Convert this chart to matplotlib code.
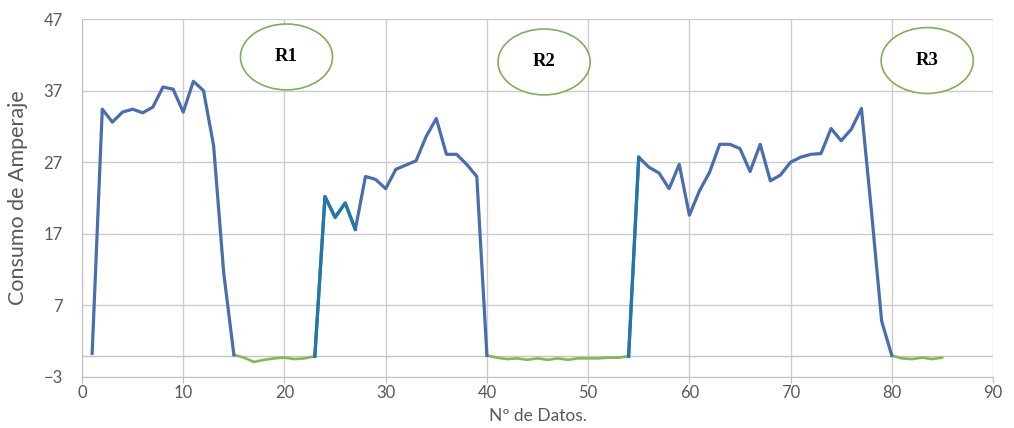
import matplotlib
matplotlib.use("Agg")
import matplotlib.pyplot as plt
from matplotlib.patches import Ellipse
import numpy as np

# consumo de amperaje por dato (x = 1..85)
n_datos = np.arange(1, 86)
amperaje = [
    0.3, 34.4, 32.6, 34.0, 34.4, 33.9, 34.7, 37.5, 37.2, 34.0,
    38.3, 37.0, 29.3, 11.5, 0.1, -0.3, -0.9, -0.6, -0.4, -0.3,
    -0.5, -0.4, -0.1, 22.2, 19.3, 21.3, 17.6, 25.0, 24.6, 23.3,
    26.0, 26.6, 27.2, 30.6, 33.1, 28.1, 28.1, 26.7, 25.0, 0.0,
    -0.3, -0.5, -0.4, -0.6, -0.4, -0.6, -0.4, -0.6, -0.4, -0.4,
    -0.4, -0.3, -0.3, -0.1, 27.7, 26.3, 25.5, 23.3, 26.7, 19.6,
    23.0, 25.6, 29.5, 29.5, 28.9, 25.7, 29.5, 24.4, 25.2, 27.0,
    27.7, 28.1, 28.2, 31.7, 30.0, 31.6, 34.5, 20.0, 4.8, 0.0,
    -0.4, -0.5, -0.3, -0.5, -0.3,
]
amperaje = np.array(amperaje)

# tramos en marcha (azul) y en reposo (verde), como rangos de datos
tramos_marcha = [(1, 15), (23, 40), (54, 80)]
tramos_reposo = [(15, 23), (40, 54), (80, 85)]
tramos_resaltados = [(23, 27), (54, 55)]

regiones = ["R1", "R2", "R3"]
reg_x = [20.2, 45.65, 83.5]
reg_y = [41.7, 41.0, 41.2]

azul = "#4A6DAE"
azul_osc = "#2177A8"
verde = "#86B65A"
gris = "#595959"

fig = plt.figure(figsize=(10.14, 4.28), dpi=100)
ax = fig.add_axes([0.0809, 0.1192, 0.8984, 0.8364])

def tramo(a, b):
    m = (n_datos >= a) & (n_datos <= b)
    return n_datos[m], amperaje[m]

for a, b in tramos_reposo:
    x, y = tramo(a, b)
    ax.plot(x, y, color=verde, lw=1.9, solid_capstyle="round", zorder=3)
for a, b in tramos_marcha:
    x, y = tramo(a, b)
    ax.plot(x, y, color=azul, lw=2.3, solid_joinstyle="round", zorder=4)
for a, b in tramos_resaltados:
    x, y = tramo(a, b)
    ax.plot(x, y, color=azul_osc, lw=2.3, solid_joinstyle="round", zorder=5)

for r, cx, cy in zip(regiones, reg_x, reg_y):
    ax.add_patch(Ellipse((cx, cy), 9.1, 9.2, facecolor="white",
                         edgecolor="#7FAE5C", lw=1.2, zorder=6))
    ax.text(cx, cy, r, ha="center", va="center", fontsize=13.5,
            fontweight="bold", family="Liberation Serif", zorder=7)

ax.set_xlim(0, 90)
ax.set_ylim(-3, 47)
ax.set_xticks(range(0, 91, 10))
ax.set_yticks(range(-3, 48, 10))
ax.grid(True, color="#CCCCCC", lw=1)
ax.axhline(0, color="#C4C4C4", lw=1, zorder=1)
ax.set_axisbelow(True)

for s in ["top", "right"]:
    ax.spines[s].set_visible(False)
for s in ["left", "bottom"]:
    ax.spines[s].set_color("#BFBFBF")

ax.tick_params(axis="x", length=4, color="#BFBFBF", labelsize=12,
               labelcolor=gris, pad=2)
ax.tick_params(axis="y", length=0, labelsize=12, labelcolor=gris, pad=14)
for lab in ax.get_xticklabels() + ax.get_yticklabels():
    lab.set_family("Lato")

ax.set_xlabel("Nº de Datos.", fontsize=12.5, color=gris, family="Lato", labelpad=5)
ax.set_ylabel("Consumo de Amperaje", fontsize=15.5, color=gris, family="Lato")
ax.yaxis.set_label_coords(-0.059, 0.5)

fig.savefig("out.png", dpi=100)
